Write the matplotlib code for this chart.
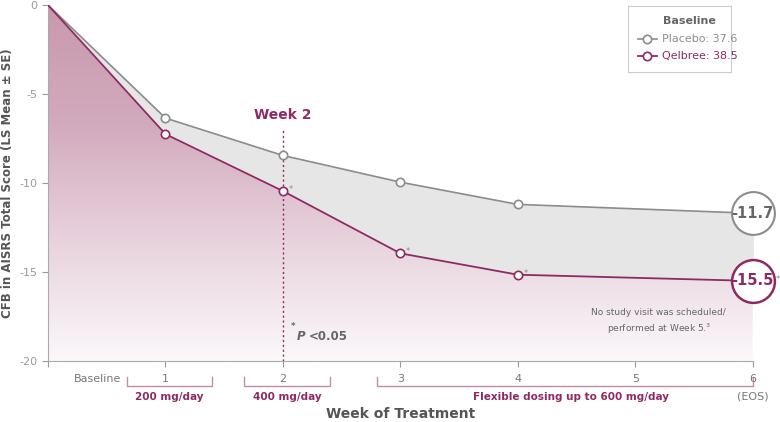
import numpy as np
import matplotlib.pyplot as plt
from matplotlib.patches import Polygon
from matplotlib.colors import LinearSegmentedColormap

weeks = [0, 1, 2, 3, 4, 6]
placebo = [0, -6.35, -8.45, -9.95, -11.2, -11.7]
qelbree = [0, -7.25, -10.45, -13.95, -15.15, -15.5]
tick_labels = ["Baseline", "1", "2", "3", "4", "5", "6"]

GRAY = "#8c8c8c"
PURPLE = "#8e2a63"

fig = plt.figure(figsize=(7.8, 4.22), dpi=100)
ax = fig.add_axes([0.0615, 0.1445, 0.9035, 0.8435])
ax.set_xlim(0, 6)
ax.set_ylim(-20, 0)

# gradient under Qelbree
cmap = LinearSegmentedColormap.from_list("g", ["#fbf8fa", "#e8d3dd", "#d2aabd", "#c899ad"])
grad = np.linspace(0, 1, 256).reshape(-1, 1)
im = ax.imshow(grad, extent=[0, 6, -20, 0], origin="lower", cmap=cmap, aspect="auto", zorder=1)
poly = Polygon(list(zip(weeks, qelbree)) + [(6, -20), (0, -20)], closed=True, transform=ax.transData)
im.set_clip_path(poly)

ax.fill_between(weeks, placebo, qelbree, color="#e6e6e6", zorder=2)

ax.plot(weeks, placebo, color=GRAY, lw=1.2, zorder=3)
ax.plot(weeks[1:-1], placebo[1:-1], ls="none", marker="o", ms=6, mfc="white", mec=GRAY, mew=1.2, zorder=4)
ax.plot(weeks, qelbree, color=PURPLE, lw=1.3, zorder=3)
ax.plot(weeks[1:-1], qelbree[1:-1], ls="none", marker="o", ms=6, mfc="white", mec=PURPLE, mew=1.2, zorder=4)

# end labels
ax.scatter([6], [placebo[-1]], s=950, facecolor="white", edgecolor=GRAY, lw=1.5, zorder=5, clip_on=False)
ax.text(6, placebo[-1], "-11.7", ha="center", va="center", fontsize=10.5, fontweight="bold", color="#666666", zorder=6)
ax.scatter([6], [qelbree[-1]], s=950, facecolor="white", edgecolor=PURPLE, lw=1.8, zorder=5, clip_on=False)
ax.text(6, qelbree[-1], "-15.5", ha="center", va="center", fontsize=10.5, fontweight="bold", color=PURPLE, zorder=6)
for w, v in zip(weeks[2:], qelbree[2:]):
    dx = 0.2 if w == 6 else 0.05
    ax.text(w + dx, v - 0.05, "*", fontsize=6, color=GRAY, zorder=6)

# week 2 marker
ax.axvline(2, color=PURPLE, ls=(0, (1.5, 2)), lw=1, ymax=0.655, zorder=3)
ax.text(2, -6.2, "Week 2", ha="center", va="center", fontsize=10, fontweight="bold", color=PURPLE)
ax.text(2.07, -18.2, "*", fontsize=6, fontweight="bold", color="#666666")
ax.text(2.12, -18.6, "P", fontsize=8.5, fontweight="bold", fontstyle="italic", color="#666666", va="center")
ax.text(2.22, -18.6, "<0.05", fontsize=8.5, fontweight="bold", color="#666666", va="center")
ax.text(5.2, -17.8, "No study visit was scheduled/\nperformed at Week 5.$^{3}$", ha="center", va="center",
        fontsize=6.5, color="#666666", linespacing=1.4)

ax.set_xticks(range(7))
ax.set_xticklabels([])
for i, lab in enumerate(tick_labels):
    ax.text(0.62 if i == 0 else i, -21.0, lab, ha="right" if i == 0 else "center", va="center", fontsize=8,
            color="#777777", clip_on=False)
ax.text(6, -22.0, "(EOS)", ha="center", va="center", fontsize=8, color="#777777", clip_on=False)
ax.set_yticks([0, -5, -10, -15, -20])
ax.set_yticklabels(["0", "-5", "-10", "-15", "-20"], color="#777777", fontsize=8)
ax.tick_params(colors="#999999", length=4)
for s in ["top", "right"]:
    ax.spines[s].set_visible(False)
ax.spines["left"].set_color("#aaaaaa")
ax.spines["bottom"].set_color("#aaaaaa")
ax.set_ylabel("CFB in AISRS Total Score (LS Mean ± SE)", fontsize=8.5, fontweight="bold", color="#555555")

# dosing brackets
BR = "#c48aa8"
for x0, x1, lab in [(0.67, 1.4, "200 mg/day"), (1.67, 2.4, "400 mg/day"), (2.8, 6.0, "Flexible dosing up to 600 mg/day")]:
    ax.plot([x0, x0, x1, x1], [-20.9, -21.4, -21.4, -20.9], color=BR, lw=1, clip_on=False)
    xc = (x0 + x1) / 2 if x1 < 5 else 4.45
    ax.text(xc, -22.0, lab, ha="center", va="center", fontsize=7.5, fontweight="bold", color=PURPLE, clip_on=False)
ax.text(3, -23.0, "Week of Treatment", ha="center", va="center", fontsize=10, fontweight="bold", color="#555555",
        clip_on=False)

# legend box
lx = fig.add_axes([0.805, 0.83, 0.132, 0.155])
lx.set_xlim(0, 1)
lx.set_ylim(0, 1)
lx.set_xticks([])
lx.set_yticks([])
for s in lx.spines.values():
    s.set_color("#cccccc")
lx.text(0.6, 0.78, "Baseline", ha="center", va="center", fontsize=8, fontweight="bold", color="#666666")
lx.plot([0.1, 0.28], [0.5, 0.5], color=GRAY, lw=1.2)
lx.plot([0.19], [0.5], marker="o", ms=6, mfc="white", mec=GRAY, mew=1.2)
lx.text(0.33, 0.5, "Placebo: 37.6", va="center", fontsize=8, color=GRAY)
lx.plot([0.1, 0.28], [0.24, 0.24], color=PURPLE, lw=1.3)
lx.plot([0.19], [0.24], marker="o", ms=6, mfc="white", mec=PURPLE, mew=1.2)
lx.text(0.33, 0.24, "Qelbree: 38.5", va="center", fontsize=8, color=PURPLE)

fig.savefig("out.png", dpi=100)
